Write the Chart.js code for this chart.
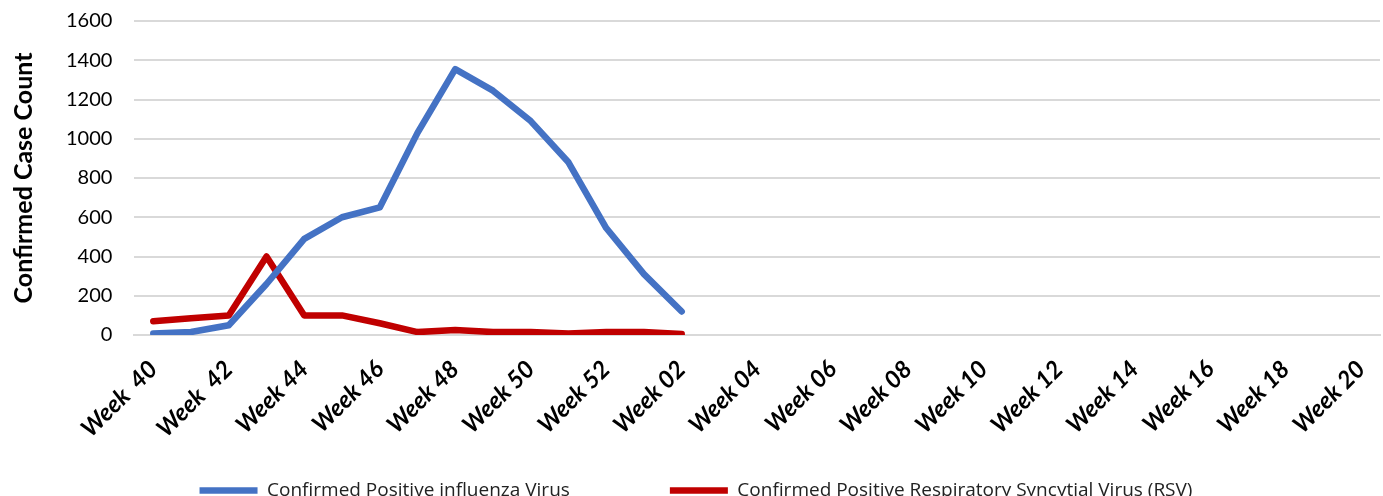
<!DOCTYPE html>
<html>
<head>
<meta charset="utf-8">
<script src="https://cdn.jsdelivr.net/npm/chart.js@4/dist/chart.umd.min.js"></script>
<style>
  html, body { margin: 0; padding: 0; background: #fff; }
  #wrap { width: 1383px; height: 496px; }
</style>
</head>
<body>
<div id="wrap"><canvas id="myChart" width="1383" height="496"></canvas></div>
<script>
'use strict';
// weeks 40..52, then 01..20
let weeks = ['Week  40', 'Week 41', 'Week  42', 'Week 43', 'Week 44', 'Week 45', 'Week 46', 'Week 47',
    'Week 48', 'Week 49', 'Week 50', 'Week 51', 'Week 52', 'Week 01', 'Week 02', 'Week 03', 'Week 04',
    'Week 05', 'Week 06', 'Week 07', 'Week 08', 'Week 09', 'Week 10', 'Week 11', 'Week 12', 'Week 13',
    'Week 14', 'Week 15', 'Week 16', 'Week 17', 'Week 18', 'Week 19', 'Week 20'];
let fluCases = [8, 15, 50, 260, 490, 600, 650, 1030, 1355, 1245, 1090, 880, 545, 310, 120];
let rsvCases = [70, 85, 100, 400, 100, 100, 60, 15, 25, 15, 15, 8, 15, 15, 5];
let yTicks = [0, 200, 400, 600, 800, 1000, 1200, 1400, 1600];

let gridGrey = '#d9d9d9';
let ctx = document.getElementById('myChart').getContext('2d');
let myChart = new Chart(ctx, {
    type: 'line',
    data: {
        labels: weeks,
        datasets: [{
            label: 'Confirmed Positive influenza Virus',
            data: fluCases,
            borderColor: '#4472c4',
            backgroundColor: '#4472c4',
            borderWidth: 6.5,
            pointRadius: 0,
            borderCapStyle: 'round',
            borderJoinStyle: 'round',
            tension: 0
        }, {
            label: 'Confirmed Positive Respiratory Syncytial Virus (RSV)',
            data: rsvCases,
            borderColor: '#c00000',
            backgroundColor: '#c00000',
            borderWidth: 6.5,
            pointRadius: 0,
            borderCapStyle: 'round',
            borderJoinStyle: 'round',
            tension: 0
        }]
    },
    options: {
        responsive: false,
        animation: false,
        layout: { padding: { left: 9, right: 0, top: 0, bottom: -14 } },
        plugins: {
            tooltip: { enabled: false },
            legend: {
                position: 'bottom',
                labels: {
                    usePointStyle: true,
                    pointStyle: 'line',
                    pointStyleWidth: 58,
                    boxHeight: 6,
                    padding: 26,
                    color: '#222',
                    font: { family: 'Open Sans', size: 19 },
                    generateLabels: function (chart) {
                        let items = Chart.defaults.plugins.legend.labels.generateLabels(chart);
                        // widen the gap after the first entry without changing legend height
                        items[0].text = items[0].text + '               ';
                        return items;
                    }
                }
            }
        },
        scales: {
            x: {
                offset: true,
                grid: { display: false },
                border: { display: true, color: gridGrey, width: 2 },
                afterFit: function (axis) {
                    axis.paddingRight = 3;
                },
                ticks: {
                    autoSkip: false,
                    maxRotation: 45,
                    minRotation: 45,
                    padding: 12,
                    color: '#000',
                    font: { family: 'Lato', size: 24, weight: 'bold', style: 'italic' },
                    callback: function (value, index) {
                        return index % 2 === 0 ? weeks[index] : '';
                    }
                }
            },
            y: {
                min: 0,
                max: 1600,
                afterBuildTicks: function (axis) {
                    axis.ticks = yTicks.map(v => ({ value: v }));
                },
                afterFit: function (axis) {
                    axis.paddingTop = 21;
                },
                grid: { color: gridGrey, lineWidth: 2, drawTicks: false },
                border: { display: false },
                ticks: {
                    padding: 22,
                    color: '#000',
                    font: { family: 'Lato', size: 20 },
                    callback: function (value) {
                        return String(value);
                    }
                },
                title: {
                    display: true,
                    text: 'Confirmed Case Count',
                    color: '#000',
                    font: { family: 'Lato', size: 25, weight: 'bold' },
                    padding: { top: 0, bottom: 5 }
                }
            }
        }
    }
});
</script>
</body>
</html>
